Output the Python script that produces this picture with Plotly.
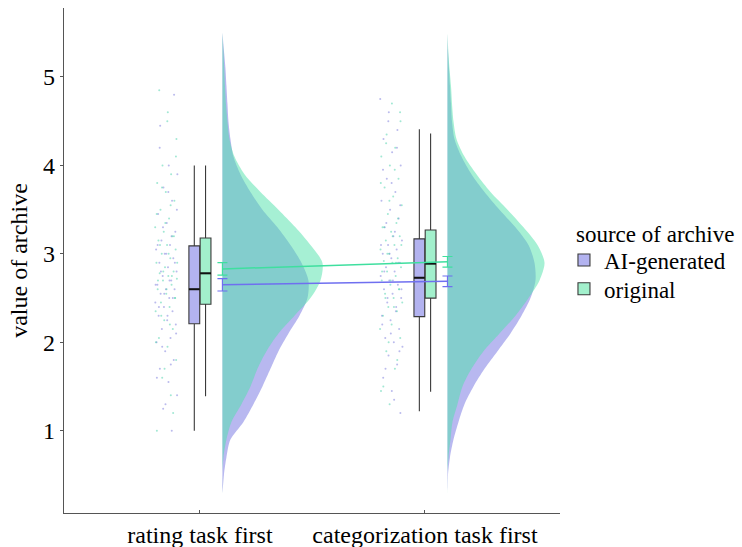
import plotly.graph_objects as go

# ---------------- data ----------------
categories = ["rating task first", "categorization task first"]
cat_pos = [1, 2]
groups = ["AI-generated", "original"]
legend_title = "source of archive"

# box statistics [rating, categorization]
ai_q1 = [2.21, 2.29]
ai_median = [2.60, 2.73]
ai_q3 = [3.09, 3.17]
ai_low = [1.00, 1.22]
ai_high = [4.00, 4.41]

orig_q1 = [2.43, 2.50]
orig_median = [2.78, 2.89]
orig_q3 = [3.18, 3.27]
orig_low = [1.39, 1.44]
orig_high = [4.00, 4.36]

# means and standard errors
ai_mean = [2.65, 2.69]
ai_se = [0.07, 0.06]
orig_mean = [2.83, 2.91]
orig_se = [0.07, 0.06]

# density estimates (relative) at value levels
density_levels = [0.3, 0.5, 0.7, 0.9, 1.1, 1.3, 1.5, 1.7, 1.9, 2.1, 2.3, 2.5, 2.7, 2.9,
                  3.1, 3.3, 3.5, 3.7, 3.9, 4.1, 4.3, 4.5, 4.7, 4.9, 5.1, 5.3, 5.5]
dens_ai_rating = [0, 1.5, 4, 8, 21, 31, 40, 48, 56, 66, 77, 85, 86, 79,
                  68, 55, 40, 28, 18, 11, 8, 6, 5, 4, 3, 1.5, 0]
dens_orig_rating = [0, 0, 1, 4, 9, 19, 28, 35, 44, 56, 72, 88, 98, 100,
                    88, 73, 56, 38, 22, 12, 7, 5, 3.5, 2.5, 1.8, 1, 0]
dens_ai_categ = [0, 0.5, 2.5, 6, 11, 17, 26, 37, 50, 63, 74, 83, 88, 87,
                 81, 68, 52, 37, 24, 14, 7, 4.5, 3.5, 2.5, 1.5, 0.5, 0]
dens_orig_categ = [0, 0, 1, 3, 5, 10, 15, 24, 36, 52, 68, 81, 92, 97,
                   90, 76, 60, 43, 29, 17, 9, 6, 4.5, 3.5, 2, 0.8, 0]

# individual ratings (raw points)
ai_rating_pts = [1.0, 1.25, 1.4, 1.55, 1.7, 1.8, 1.9, 2.0, 2.05, 2.15, 2.2, 2.25, 2.3, 2.35,
                 2.4, 2.45, 2.5, 2.55, 2.6, 2.6, 2.65, 2.7, 2.75, 2.8, 2.85, 2.9, 2.95, 3.0,
                 3.05, 3.1, 3.15, 3.25, 3.35, 3.45, 3.6, 3.75, 3.9, 4.0, 4.45, 4.8,
                 1.3, 1.6, 1.75, 1.95, 2.1, 2.3, 2.4, 2.5, 2.55, 2.65, 2.7, 2.8, 2.9, 3.0,
                 3.1, 3.2, 3.3, 3.5, 3.7, 4.2]
orig_rating_pts = [1.0, 1.4, 1.6, 1.8, 1.95, 2.05, 2.15, 2.25, 2.35, 2.4, 2.45, 2.5, 2.55, 2.6,
                   2.65, 2.7, 2.72, 2.75, 2.78, 2.8, 2.85, 2.9, 2.95, 3.0, 3.05, 3.1, 3.15, 3.2,
                   3.25, 3.3, 3.4, 3.5, 3.6, 3.7, 3.8, 3.9, 4.0, 4.3, 4.6, 4.85,
                   1.2, 1.7, 2.0, 2.2, 2.3, 2.5, 2.6, 2.7, 2.75, 2.8, 2.9, 3.0, 3.1, 3.2,
                   3.35, 3.45, 3.55, 3.75, 4.1, 4.5]
ai_categ_pts = [1.2, 1.45, 1.6, 1.75, 1.85, 1.95, 2.0, 2.05, 2.15, 2.25, 2.3, 2.35, 2.45, 2.5,
                2.55, 2.6, 2.65, 2.7, 2.75, 2.8, 2.85, 2.9, 2.95, 3.0, 3.05, 3.1, 3.15, 3.2,
                3.3, 3.4, 3.5, 3.6, 3.7, 3.85, 4.0, 4.15, 4.3, 4.4, 4.6, 4.75,
                1.35, 1.7, 1.9, 2.1, 2.2, 2.4, 2.5, 2.6, 2.7, 2.8, 2.9, 3.0, 3.1, 3.25,
                3.35, 3.55, 3.8, 3.95, 4.2, 4.5]
orig_categ_pts = [1.3, 1.45, 1.7, 1.9, 2.05, 2.2, 2.3, 2.35, 2.4, 2.45, 2.5, 2.55, 2.6, 2.65,
                  2.7, 2.75, 2.8, 2.85, 2.9, 2.92, 2.95, 3.0, 3.05, 3.1, 3.15, 3.2, 3.25, 3.3,
                  3.35, 3.45, 3.55, 3.65, 3.75, 3.85, 4.0, 4.1, 4.2, 4.35, 4.5, 4.7,
                  1.5, 1.8, 2.0, 2.15, 2.4, 2.5, 2.6, 2.7, 2.8, 2.9, 3.0, 3.1, 3.2, 3.3,
                  3.4, 3.6, 3.8, 3.95, 4.25, 4.6]

y_ticks = [1, 2, 3, 4, 5]

# ---------------- styles ----------------
FONT = "Liberation Serif, Times New Roman, serif"
AI_FILL = "rgba(113,113,225,0.5)"
OR_FILL = "rgba(77,225,169,0.5)"
AI_BOX = "#b3b3f0"
OR_BOX = "#a2f0cc"
AI_LINE = "#6f6ff0"
OR_LINE = "#3fdf9f"
AI_DOT = "rgba(120,120,220,0.5)"
OR_DOT = "rgba(70,210,170,0.5)"

VIOLIN_OFFSET = 0.1
DENS_SCALE = 1.0 / 225.0
BOX_OFF = 0.025
BOX_W = 0.048

fig = go.Figure()

# half violins
def add_violin(c, dens, color):
    base = c + VIOLIN_OFFSET
    xs = [base + d * DENS_SCALE for d in dens] + [base for _ in dens]
    ys = list(density_levels) + list(reversed(density_levels))
    fig.add_trace(go.Scatter(x=xs, y=ys, mode="lines", fill="toself", fillcolor=color,
                             line=dict(width=0, color=color, shape="spline", smoothing=0.8),
                             showlegend=False, hoverinfo="skip"))

add_violin(cat_pos[0], dens_ai_rating, AI_FILL)
add_violin(cat_pos[1], dens_ai_categ, AI_FILL)
add_violin(cat_pos[0], dens_orig_rating, OR_FILL)
add_violin(cat_pos[1], dens_orig_categ, OR_FILL)

# jittered raw points
def add_points(c, vals, color, phase):
    xs = [c - 0.2 + 0.1 * (((i + 1) * 0.6180339 + phase) % 1.0) for i in range(len(vals))]
    fig.add_trace(go.Scatter(x=xs, y=vals, mode="markers",
                             marker=dict(size=2, color=color),
                             showlegend=False, hoverinfo="skip"))

add_points(cat_pos[0], ai_rating_pts, AI_DOT, 0.13)
add_points(cat_pos[0], orig_rating_pts, OR_DOT, 0.47)
add_points(cat_pos[1], ai_categ_pts, AI_DOT, 0.29)
add_points(cat_pos[1], orig_categ_pts, OR_DOT, 0.81)

# boxes
fig.add_trace(go.Box(name=groups[0], x=[c - BOX_OFF for c in cat_pos],
                     q1=ai_q1, median=ai_median, q3=ai_q3,
                     lowerfence=ai_low, upperfence=ai_high,
                     width=BOX_W, whiskerwidth=0, fillcolor=AI_BOX,
                     line=dict(color="#3a3a3a", width=1.1), boxpoints=False,
                     legend="legend", showlegend=True, hoverinfo="skip"))
fig.add_trace(go.Box(name=groups[1], x=[c + BOX_OFF for c in cat_pos],
                     q1=orig_q1, median=orig_median, q3=orig_q3,
                     lowerfence=orig_low, upperfence=orig_high,
                     width=BOX_W, whiskerwidth=0, fillcolor=OR_BOX,
                     line=dict(color="#3a3a3a", width=1.1), boxpoints=False,
                     legend="legend2", showlegend=True, hoverinfo="skip"))

# thicker median bars
def add_medians(offset, med):
    xs, ys = [], []
    for c, m in zip(cat_pos, med):
        xs += [c + offset - BOX_W / 2, c + offset + BOX_W / 2, None]
        ys += [m, m, None]
    fig.add_trace(go.Scatter(x=xs, y=ys, mode="lines", line=dict(color="#111111", width=2),
                             showlegend=False, hoverinfo="skip"))

add_medians(-BOX_OFF, ai_median)
add_medians(BOX_OFF, orig_median)

# mean lines with error bars
fig.add_trace(go.Scatter(x=[c + VIOLIN_OFFSET for c in cat_pos], y=ai_mean, mode="lines",
                         line=dict(color=AI_LINE, width=1.5),
                         error_y=dict(type="data", array=ai_se, color=AI_LINE,
                                      thickness=1.2, width=5),
                         showlegend=False, hoverinfo="skip"))
fig.add_trace(go.Scatter(x=[c + VIOLIN_OFFSET for c in cat_pos], y=orig_mean, mode="lines",
                         line=dict(color=OR_LINE, width=1.5),
                         error_y=dict(type="data", array=orig_se, color=OR_LINE,
                                      thickness=1.2, width=5),
                         showlegend=False, hoverinfo="skip"))

legend_common = dict(xanchor="left", yanchor="middle", font=dict(size=23),
                     itemwidth=30, bgcolor="rgba(0,0,0,0)", borderwidth=0)

fig.update_layout(
    width=742, height=547,
    margin=dict(l=64, r=182, t=8, b=34),
    paper_bgcolor="white", plot_bgcolor="white",
    font=dict(family=FONT, size=24, color="black"),
    boxmode="overlay",
    showlegend=True,
    legend=dict(x=1.008, y=0.501, **legend_common),
    legend2=dict(x=1.008, y=0.444, **legend_common),
    annotations=[dict(text=legend_title, xref="paper", yref="paper", x=1.028, y=0.551,
                      xanchor="left", yanchor="middle", showarrow=False,
                      font=dict(size=23, family=FONT, color="black"))],
    xaxis=dict(range=[0.396, 2.6], tickmode="array", tickvals=cat_pos, ticktext=categories,
               showgrid=False, zeroline=False, showline=True, linecolor="#555555",
               linewidth=1.2, ticks="inside", ticklen=3, tickcolor="#555555",
               tickfont=dict(size=24, color="black"), automargin=False),
    yaxis=dict(range=[0.07, 5.78], tickvals=y_ticks, showgrid=False, zeroline=False,
               showline=True, linecolor="#555555", linewidth=1.2, ticks="outside",
               ticklen=3, tickcolor="#555555", tickfont=dict(size=24, color="black"),
               automargin=False,
               title=dict(text="value of archive", font=dict(size=24), standoff=8)),
)

fig.write_html("out.html", config={"displayModeBar": False},
               post_script="document.body.style.margin='0';document.body.style.padding='0';")
